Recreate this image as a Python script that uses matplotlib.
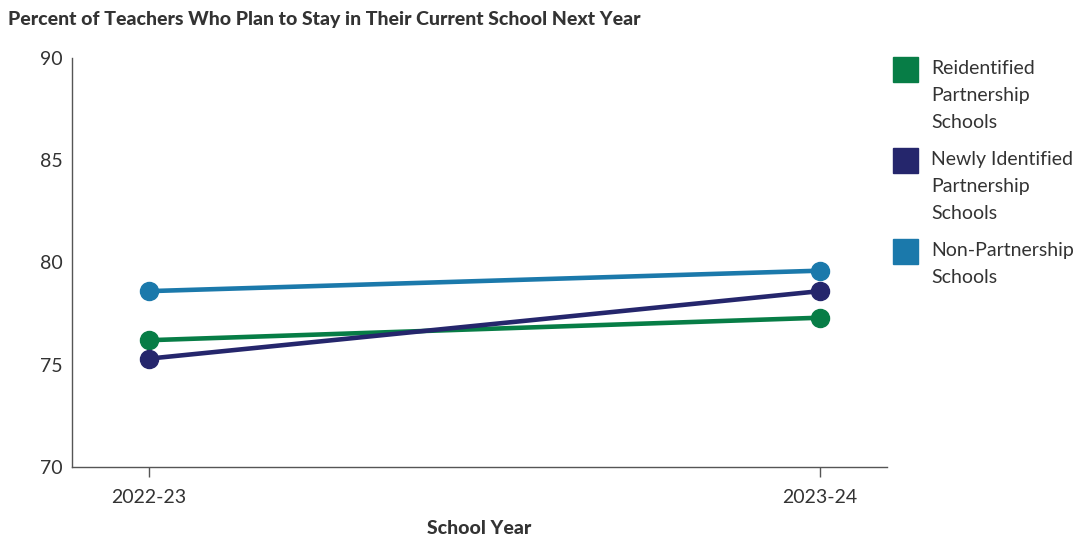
import matplotlib
matplotlib.use("Agg")
import matplotlib.pyplot as plt
from matplotlib.patches import Rectangle

# survey results: share of teachers planning to stay, by school group
years = ["2022-23", "2023-24"]
reidentified = [76.2, 77.3]
newly_identified = [75.3, 78.6]
non_partnership = [78.6, 79.6]

series_names = [
    "Reidentified\nPartnership\nSchools",
    "Newly Identified\nPartnership\nSchools",
    "Non-Partnership\nSchools",
]
series_values = [reidentified, newly_identified, non_partnership]
colors = ["#077d46", "#25266c", "#1b79ab"]

plt.rcParams["font.family"] = ["Lato", "DejaVu Sans"]
text_color = "#333333"

W, H = 1080, 537
fig = plt.figure(figsize=(W / 100, H / 100), dpi=100)
ax = fig.add_axes([72 / W, 1 - 467 / H, (887 - 72) / W, (467 - 58) / H])

x = list(range(len(years)))
for vals, c in zip(series_values, colors):
    ax.plot(x, vals, color=c, lw=3.3, marker="o", markersize=13,
            solid_capstyle="butt", zorder=3)

ax.set_xlim(-0.115, 1.1)
ax.set_ylim(70, 90)
ax.set_yticks([70, 75, 80, 85, 90])
ax.set_xticks(x)
ax.set_xticklabels(years)

for side in ["top", "right"]:
    ax.spines[side].set_visible(False)
for side in ["left", "bottom"]:
    ax.spines[side].set_color("#555555")
    ax.spines[side].set_linewidth(1)

ax.tick_params(axis="y", length=0, pad=7, labelsize=14, labelcolor=text_color)
ax.tick_params(axis="x", length=7, width=1, color="#555555", pad=9,
               labelsize=14, labelcolor=text_color)

ax.set_xlabel("School Year", fontsize=14, fontweight="black",
              color=text_color, labelpad=10)

fig.text(8 / W, 1 - 19 / H,
         "Percent of Teachers Who Plan to Stay in Their Current School Next Year",
         fontsize=14, fontweight="black", color=text_color,
         ha="left", va="center")

# legend drawn by hand: colored square plus wrapped label
tops = [57, 148, 239]
for name, c, top in zip(series_names, colors, tops):
    fig.patches.append(Rectangle((893 / W, 1 - (top + 25) / H), 25 / W, 25 / H,
                                 transform=fig.transFigure, color=c))
    fig.text(931 / W, 1 - (top + 3) / H, name, fontsize=14, color=text_color,
             ha="left", va="top", linespacing=1.72)

fig.savefig("out.png", dpi=100)
